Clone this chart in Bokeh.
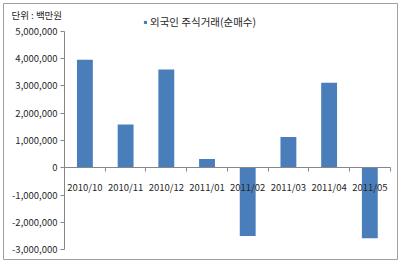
from bokeh.plotting import figure
from bokeh.models import (FixedTicker, NumeralTickFormatter, Legend, LegendItem,
                          Label, ColumnDataSource)
from bokeh.embed import file_html
from bokeh.resources import INLINE

months = ["2010/10", "2010/11", "2010/12", "2011/01", "2011/02", "2011/03", "2011/04", "2011/05"]
net_buy = [3960000, 1590000, 3600000, 320000, -2500000, 1130000, 3120000, -2580000]
y_ticks = [-3000000, -2000000, -1000000, 0, 1000000, 2000000, 3000000, 4000000, 5000000]
series_name = "외국인 주식거래(순매수)"
unit_text = "단위 : 백만원"

xs = [i + 0.5 for i in range(len(months))]
src = ColumnDataSource(dict(x=xs, v=net_buy, m=months))

FONT = "Noto Sans CJK KR"
TXT = "#262626"
AX = "#868686"

p = figure(width=400, height=263, output_backend="svg", toolbar_location=None,
           x_range=(-1.50, len(months) + 0.18), y_range=(-3360000, 6020000),
           min_border_left=3, min_border_right=3, min_border_top=3, min_border_bottom=4)
p.xgrid.visible = False
p.ygrid.visible = False
p.background_fill_color = "white"
p.border_fill_color = "white"
p.outline_line_color = "#a0a0a0"
p.outline_line_width = 1

r = p.vbar(x="x", top="v", bottom=0, width=0.39, source=src,
           fill_color="#4a7ebb", line_color=None)

# x axis at y = 0
xa = p.xaxis[0]
xa.fixed_location = 0
xa.bounds = (0, len(months))
xa.ticker = FixedTicker(ticks=xs, minor_ticks=list(range(len(months) + 1)))
xa.major_label_overrides = {x: m for x, m in zip(xs, months)}
xa.major_tick_line_color = None
xa.major_tick_out = 0
xa.major_tick_in = 0
xa.minor_tick_line_color = AX
xa.minor_tick_out = 4
xa.minor_tick_in = 0
xa.axis_line_color = AX
xa.major_label_standoff = 8
xa.major_label_text_font = FONT
xa.major_label_text_font_size = "9.5px"
xa.major_label_text_color = TXT

# y axis at x = 0
ya = p.yaxis[0]
ya.fixed_location = 0
ya.bounds = (y_ticks[0], y_ticks[-1])
ya.ticker = FixedTicker(ticks=y_ticks, minor_ticks=[])
ya.formatter = NumeralTickFormatter(format="0,0")
ya.axis_line_color = AX
ya.major_tick_line_color = AX
ya.major_tick_out = 4
ya.major_tick_in = 0
ya.minor_tick_line_color = None
ya.major_label_standoff = 3
ya.major_label_text_font = FONT
ya.major_label_text_font_size = "9.5px"
ya.major_label_text_color = TXT

legend = Legend(items=[LegendItem(label=series_name, renderers=[r])],
                location=(140, 230), glyph_width=4, glyph_height=4,
                label_standoff=3, padding=0, margin=0, spacing=0,
                border_line_color=None, background_fill_alpha=0,
                label_text_font=FONT, label_text_font_size="10.5px",
                label_text_color=TXT, label_height=10)
p.add_layout(legend, "center")

p.add_layout(Label(x=8, y=238, x_units="screen", y_units="screen", text=unit_text,
                   text_font=FONT, text_font_size="9.5px", text_color=TXT))

open("out.html", "w").write(file_html(p, INLINE))
